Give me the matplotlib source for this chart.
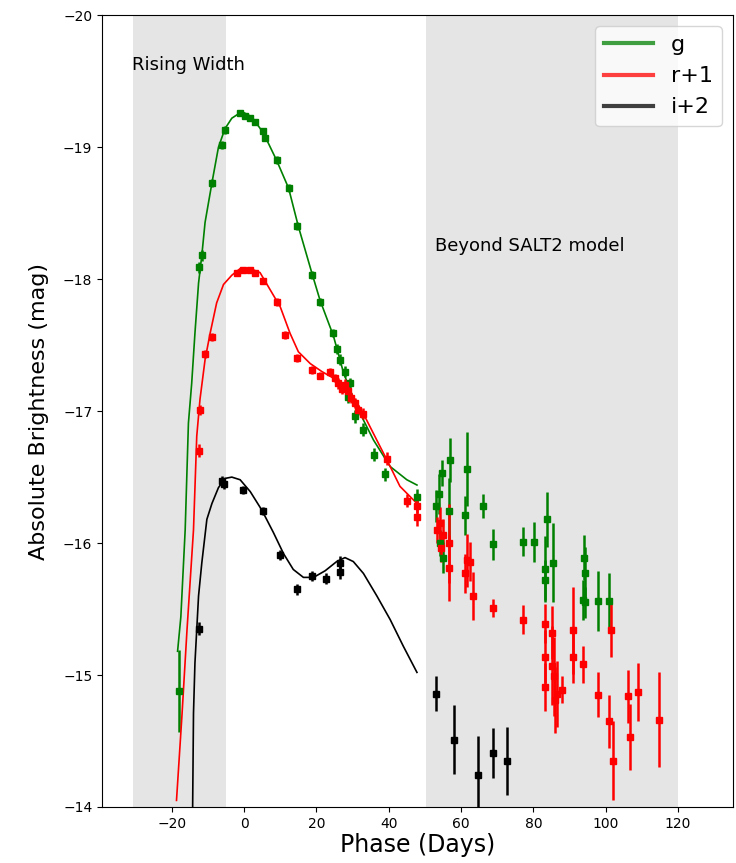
import matplotlib
matplotlib.use("Agg")
import matplotlib.pyplot as plt
from matplotlib.lines import Line2D

# SALT2 model curves (phase in days, mag)
g_model_phase = [-18.4, -17.5, -16.3, -15.4, -14.5, -13.6, -12.6, -11.7, -10.8, -8.9,
                 -7.1, -5.3, -3.4, -0.6, 2.1, 5.3, 9.0, 12.3, 15.0, 18.7, 21.0,
                 24.7, 27.5, 31.2, 35.8, 40.4, 45.0, 47.8]
g_model_mag = [-15.18, -15.44, -16.10, -16.91, -17.21, -17.59, -17.97, -18.18, -18.43, -18.73,
               -19.00, -19.14, -19.22, -19.27, -19.23, -19.11, -18.90, -18.69, -18.40, -18.05, -17.84,
               -17.57, -17.29, -17.03, -16.78, -16.58, -16.48, -16.44]

r_model_phase = [-18.7, -17.2, -15.8, -14.0, -13.1, -12.2, -10.8, -9.4, -7.6, -5.7,
                 -3.4, -1.1, 1.7, 4.4, 7.2, 10.0, 12.7, 15.0, 18.3, 21.5, 24.7, 29.3,
                 33.0, 36.7, 39.5, 43.1, 47.8]
r_model_mag = [-14.05, -14.69, -15.34, -16.10, -16.81, -17.09, -17.39, -17.59, -17.82, -17.96,
               -18.03, -18.08, -18.08, -18.05, -17.92, -17.79, -17.59, -17.45, -17.36, -17.30, -17.25, -17.15,
               -16.98, -16.78, -16.63, -16.43, -16.30]

i_model_phase = [-14.4, -14.0, -13.6, -12.6, -11.7, -10.3, -8.9, -7.1, -5.3, -3.4,
                 -1.1, 1.7, 4.9, 8.1, 10.9, 13.6, 16.4, 19.2, 22.4, 25.6, 27.9,
                 30.2, 33.0, 36.7, 40.4, 44.0, 47.8]
i_model_mag = [-13.50, -14.71, -15.09, -15.60, -15.85, -16.18, -16.30, -16.42, -16.49, -16.50,
               -16.48, -16.39, -16.25, -16.08, -15.92, -15.80, -15.74, -15.74, -15.79, -15.86, -15.89,
               -15.86, -15.77, -15.60, -15.42, -15.22, -15.02]

# observed photometry
g_phase = [-17.9, -12.6, -11.7, -8.9, -6.2, -5.3, -1.1, 0.3, 1.7, 3.0, 5.3, 5.8, 9.0, 12.3,
           14.6, 18.7, 21.0, 24.7, 25.6, 26.5, 27.9, 28.8, 29.3, 30.7, 33.0, 35.8, 39.0, 47.8,
           53.1, 54.0, 54.7, 54.2, 54.9, 57.0, 56.8, 61.7, 61.1, 66.2, 68.9, 77.0, 80.2,
           83.9, 83.2, 83.2, 85.3, 94.0, 94.3, 93.6, 94.3, 98.0, 100.9]
g_mag = [-14.88, -18.09, -18.18, -18.73, -19.02, -19.13, -19.26, -19.24, -19.22, -19.19, -19.12, -19.07, -18.90, -18.69,
         -18.40, -18.03, -17.83, -17.59, -17.47, -17.39, -17.30, -17.11, -17.21, -16.96, -16.86, -16.67, -16.52, -16.35,
         -16.28, -16.37, -16.53, -16.00, -15.89, -16.63, -16.24, -16.56, -16.21, -16.28, -15.99, -16.01, -16.01,
         -16.18, -15.80, -15.72, -15.85, -15.89, -15.77, -15.57, -15.55, -15.56, -15.56]
g_err = [0.31, 0.04, 0.04, 0.03, 0.03, 0.03, 0.02, 0.02, 0.02, 0.02, 0.02, 0.02, 0.03, 0.03,
         0.03, 0.03, 0.03, 0.03, 0.04, 0.04, 0.04, 0.05, 0.04, 0.05, 0.05, 0.05, 0.05, 0.06,
         0.12, 0.15, 0.10, 0.10, 0.12, 0.17, 0.25, 0.28, 0.15, 0.09, 0.12, 0.11, 0.15,
         0.21, 0.25, 0.15, 0.30, 0.17, 0.20, 0.15, 0.12, 0.23, 0.21]

r_phase = [-12.4, -12.2, -10.8, -8.9, -2.0, -0.2, 1.7, 3.0, 5.3, 9.0, 11.3, 14.6, 18.7, 21.0,
           23.8, 25.2, 26.0, 27.1, 27.9, 28.8, 29.6, 30.7, 31.5, 33.0, 39.5, 45.0, 47.8, 47.8,
           53.3, 54.2, 55.1, 56.8, 54.4, 56.8, 61.6, 62.5, 61.1, 63.2, 68.9, 77.0,
           83.2, 83.2, 83.2, 85.1, 85.1, 85.7, 86.5, 87.8, 86.0, 91.0, 91.0, 93.8,
           98.0, 100.9, 102.1, 101.6, 106.1, 106.7, 108.8, 114.8]
r_mag = [-16.70, -17.01, -17.43, -17.56, -18.05, -18.07, -18.07, -18.05, -17.99, -17.83, -17.58, -17.40, -17.31, -17.27,
         -17.30, -17.25, -17.21, -17.17, -17.20, -17.15, -17.10, -17.06, -17.01, -16.98, -16.64, -16.32, -16.28, -16.20,
         -16.10, -16.15, -16.06, -16.00, -15.96, -15.81, -15.87, -15.86, -15.77, -15.60, -15.51, -15.42,
         -15.39, -15.14, -14.91, -15.32, -15.07, -14.99, -14.86, -14.89, -14.81, -15.34, -15.14, -15.08,
         -14.85, -14.65, -14.35, -15.34, -14.84, -14.53, -14.87, -14.66]
r_err = [0.05, 0.04, 0.03, 0.03, 0.02, 0.02, 0.02, 0.02, 0.02, 0.03, 0.03, 0.03, 0.03, 0.03,
         0.03, 0.03, 0.04, 0.04, 0.04, 0.04, 0.04, 0.04, 0.04, 0.04, 0.05, 0.05, 0.05, 0.07,
         0.10, 0.12, 0.12, 0.30, 0.10, 0.25, 0.20, 0.15, 0.15, 0.18, 0.07, 0.11,
         0.15, 0.20, 0.18, 0.20, 0.30, 0.30, 0.25, 0.10, 0.25, 0.33, 0.20, 0.14,
         0.17, 0.20, 0.30, 0.20, 0.20, 0.25, 0.22, 0.36]

i_phase = [-12.6, -6.2, -5.7, -0.2, 5.2, 10.0, 14.6, 18.7, 22.6, 26.5, 26.5,
           53.0, 58.1, 64.7, 68.9, 72.8]
i_mag = [-15.35, -16.47, -16.45, -16.40, -16.24, -15.91, -15.65, -15.75, -15.73, -15.85, -15.78,
         -14.86, -14.51, -14.24, -14.41, -14.35]
i_err = [0.05, 0.04, 0.04, 0.03, 0.03, 0.04, 0.04, 0.04, 0.04, 0.05, 0.05,
         0.13, 0.26, 0.30, 0.19, 0.26]

bands = [
    ("g", "green", g_model_phase, g_model_mag, g_phase, g_mag, g_err),
    ("r+1", "red", r_model_phase, r_model_mag, r_phase, r_mag, r_err),
    ("i+2", "black", i_model_phase, i_model_mag, i_phase, i_mag, i_err),
]

fig = plt.figure(figsize=(7.36, 8.63), dpi=100)
ax = fig.add_axes([0.1386, 0.0649, 0.8573, 0.9174])

ax.axvspan(-30.6, -5.0, color="gray", alpha=0.2, lw=0)
ax.axvspan(50.3, 120.0, color="gray", alpha=0.2, lw=0)

handles = []
for label, col, mp, mm, ph, mag, err in bands:
    ax.plot(mp, mm, color=col, lw=1.2)
    ax.errorbar(ph, mag, yerr=err, fmt="s", ms=4, color=col, ecolor=col,
                elinewidth=1.8, capsize=0)
    handles.append(Line2D([], [], color=col, lw=3, alpha=0.75, label=label))

ax.text(-15.3, -19.62, "Rising Width", ha="center", va="center", fontsize=13)
ax.text(52.8, -18.25, "Beyond SALT2 model", ha="left", va="center", fontsize=13)

ax.set_xlim(-39.3, 135.2)
ax.set_ylim(-14, -20)
ax.set_xticks([-20, 0, 20, 40, 60, 80, 100, 120])
ax.tick_params(labelsize=10)
ax.set_xlabel("Phase (Days)", fontsize=17, labelpad=2)
ax.set_ylabel("Absolute Brightness (mag)", fontsize=16, labelpad=10)
ax.legend(handles=handles, loc="upper right", fontsize=16, handlelength=2.2)

fig.savefig("out.png", dpi=100)
